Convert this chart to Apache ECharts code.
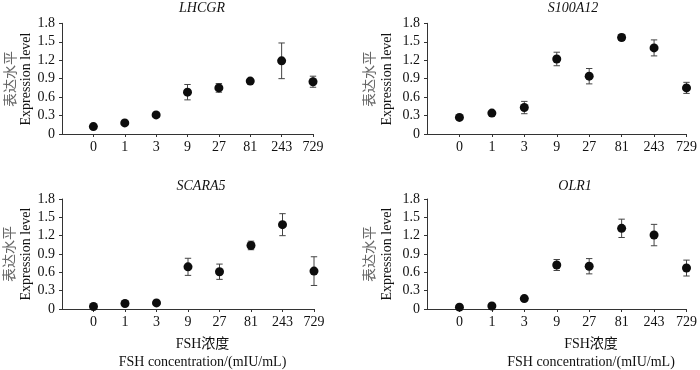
<!DOCTYPE html>
<html><head><meta charset="utf-8">
<script src="https://cdn.jsdelivr.net/npm/echarts@6/dist/echarts.min.js"></script>
<style>html,body{margin:0;padding:0;background:#fff}#c{width:700px;height:370px}</style>
</head><body><div id="c"></div>
<script>
// ---- data ----
var concentrations = ['0', '1', '3', '9', '27', '81', '243', '729'];
var yTicks = [0, 0.3, 0.6, 0.9, 1.2, 1.5, 1.8];
var genes = ['LHCGR', 'S100A12', 'SCARA5', 'OLR1'];

var lhcgrMean = [0.12, 0.18, 0.31, 0.68, 0.75, 0.86, 1.19, 0.85];
var lhcgrErr  = [0.02, 0.02, 0.04, 0.125, 0.07, 0.03, 0.29, 0.09];

var s100a12Mean = [0.27, 0.34, 0.43, 1.22, 0.94, 1.57, 1.40, 0.75];
var s100a12Err  = [0.02, 0.03, 0.10, 0.11, 0.125, 0.05, 0.13, 0.09];

var scara5Mean = [0.04, 0.09, 0.10, 0.69, 0.61, 1.04, 1.38, 0.62];
var scara5Err  = [0.01, 0.02, 0.02, 0.14, 0.125, 0.07, 0.18, 0.235];

var olr1Mean = [0.03, 0.05, 0.17, 0.72, 0.70, 1.32, 1.21, 0.67];
var olr1Err  = [0.01, 0.01, 0.02, 0.09, 0.125, 0.15, 0.175, 0.13];

var means = [lhcgrMean, s100a12Mean, scara5Mean, olr1Mean];
var errs = [lhcgrErr, s100a12Err, scara5Err, olr1Err];

// ---- layout ----
var grids = [
  {left: 62, top: 23.3, width: 251, height: 110.7},
  {left: 427, top: 23.3, width: 262, height: 110.7},
  {left: 62, top: 199, width: 252, height: 110},
  {left: 427, top: 199, width: 262, height: 110}
];
var titlePos = [[202, 8.5], [573, 8.5], [201, 186], [575, 186]];
var yNamePos = [[10, 26.5, 79], [369, 387.5, 79], [9, 26, 254], [368.5, 387.5, 254]];
var xNamePos = [[202.5, 344, 362], [591, 344, 362]];

var serif = '"Liberation Serif","Times New Roman",serif';
var axisCats = [''].concat(concentrations);
var axisColor = '#333';
var textColor = '#111';

var xAxes = [], yAxes = [], series = [], graphics = [];
grids.forEach(function (g, k) {
  xAxes.push({
    type: 'category', gridIndex: k, data: axisCats, boundaryGap: false,
    axisLine: {lineStyle: {color: axisColor, width: 1}},
    axisTick: {show: true, length: 3, interval: function (i) { return i > 0; }, lineStyle: {color: axisColor}},
    axisLabel: {interval: 0, margin: 6, color: textColor, fontFamily: serif, fontSize: 14},
    splitLine: {show: false}
  });
  yAxes.push({
    type: 'value', gridIndex: k, min: yTicks[0], max: yTicks[yTicks.length - 1], interval: 0.3,
    axisLine: {show: true, lineStyle: {color: axisColor, width: 1}},
    axisTick: {show: true, length: 3, lineStyle: {color: axisColor}},
    axisLabel: {margin: 7, color: textColor, fontFamily: serif, fontSize: 14,
      formatter: function (v) { return v === 0 ? '0' : v.toFixed(1); }},
    splitLine: {show: false}
  });
  var m = means[k], e = errs[k];
  var errData = m.map(function (v, i) { return [i + 1, v - e[i], v + e[i]]; });
  series.push({
    type: 'custom', xAxisIndex: k, yAxisIndex: k, z: 1,
    data: errData,
    renderItem: function (params, api) {
      var x = api.value(0);
      var lo = api.coord([x, api.value(1)]);
      var hi = api.coord([x, api.value(2)]);
      var cw = 3.2;
      var st = {stroke: '#444', lineWidth: 1, fill: null};
      return {type: 'group', children: [
        {type: 'line', shape: {x1: lo[0], y1: lo[1], x2: hi[0], y2: hi[1]}, style: st},
        {type: 'line', shape: {x1: lo[0] - cw, y1: lo[1], x2: lo[0] + cw, y2: lo[1]}, style: st},
        {type: 'line', shape: {x1: hi[0] - cw, y1: hi[1], x2: hi[0] + cw, y2: hi[1]}, style: st}
      ]};
    }
  });
  series.push({
    type: 'scatter', xAxisIndex: k, yAxisIndex: k, z: 3,
    symbol: 'circle', symbolSize: 9,
    itemStyle: {color: '#0d0d0d', opacity: 1},
    data: m.map(function (v, i) { return [i + 1, v]; })
  });
  // title
  graphics.push({type: 'text', x: titlePos[k][0], y: titlePos[k][1],
    style: {text: genes[k], font: 'italic 14px ' + serif, fill: textColor, align: 'center', verticalAlign: 'middle'}});
  // y names
  graphics.push({type: 'text', x: yNamePos[k][0], y: yNamePos[k][2], rotation: Math.PI / 2,
    style: {text: '表达水平', font: '14px "Noto Sans CJK SC"', fill: '#666', align: 'center', verticalAlign: 'middle'}});
  graphics.push({type: 'text', x: yNamePos[k][1], y: yNamePos[k][2], rotation: Math.PI / 2,
    style: {text: 'Expression level', font: '14px ' + serif, fill: textColor, align: 'center', verticalAlign: 'middle'}});
});
xNamePos.forEach(function (p) {
  graphics.push({type: 'text', x: p[0], y: p[1],
    style: {text: 'FSH浓度', font: '14px ' + serif + ',"Noto Sans CJK SC"', fill: textColor, align: 'center', verticalAlign: 'middle'}});
  graphics.push({type: 'text', x: p[0], y: p[2],
    style: {text: 'FSH concentration/(mIU/mL)', font: '14px ' + serif, fill: textColor, align: 'center', verticalAlign: 'middle'}});
});

var chart = echarts.init(document.getElementById('c'), null, {renderer: 'canvas'});
chart.setOption({
  animation: false,
  backgroundColor: '#fff',
  grid: grids,
  xAxis: xAxes,
  yAxis: yAxes,
  series: series,
  graphic: graphics
});
</script></body></html>
